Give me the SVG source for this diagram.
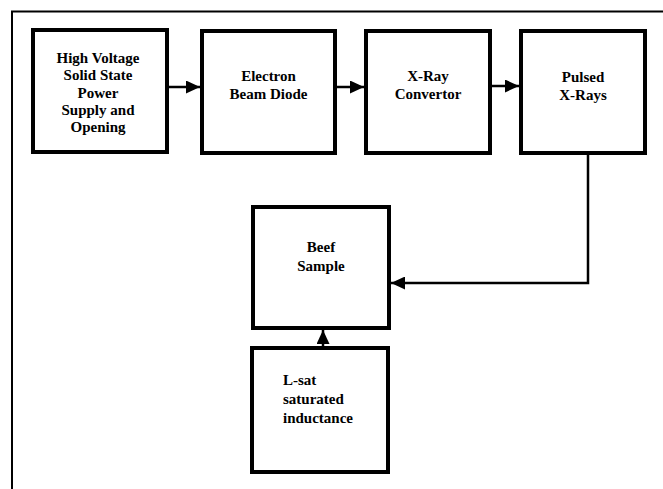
<svg xmlns="http://www.w3.org/2000/svg" width="663" height="489" viewBox="0 0 663 489">
<style>
.box{fill:#fff;stroke:#000;stroke-width:4}
.t{font-family:"Liberation Serif","Times New Roman",serif;font-weight:bold;font-size:15px;fill:#000}
.c{text-anchor:middle}
.ln{fill:none;stroke:#000;stroke-width:2.5}
</style>
<defs>
<marker id="ah" markerWidth="14" markerHeight="13" refX="14" refY="6.5" orient="auto" markerUnits="userSpaceOnUse">
<path d="M0,0 L14,6.5 L0,13 Z" fill="#000"/>
</marker>
</defs>
<rect width="663" height="489" fill="#fff"/>
<path d="M12,489 V11.5 H663" fill="none" stroke="#000" stroke-width="2"/>
<g id="power">
<rect class="box" x="33" y="30" width="134" height="122"/>
<text class="t c" x="98" y="63">High Voltage<tspan x="98" dy="17.3">Solid State</tspan><tspan x="98" dy="17.3">Power</tspan><tspan x="98" dy="17.3">Supply and</tspan><tspan x="98" dy="17.3">Opening</tspan></text>
</g>
<g id="diode">
<rect class="box" x="202" y="31" width="133" height="122"/>
<text class="t c" x="268.5" y="81">Electron<tspan x="268.5" dy="17.5">Beam Diode</tspan></text>
</g>
<g id="convertor">
<rect class="box" x="366" y="31" width="124" height="122"/>
<text class="t c" x="428" y="81">X-Ray<tspan x="428" dy="17.5">Convertor</tspan></text>
</g>
<g id="xrays">
<rect class="box" x="521" y="31" width="124" height="122"/>
<text class="t c" x="583" y="82">Pulsed<tspan x="583" dy="17.5">X-Rays</tspan></text>
</g>
<g id="beef">
<rect class="box" x="253" y="207" width="136" height="121"/>
<text class="t c" x="321" y="252">Beef<tspan x="321" dy="19">Sample</tspan></text>
</g>
<g id="lsat">
<rect class="box" x="252" y="348" width="136" height="124"/>
<text class="t" x="283" y="385">L-sat<tspan x="283" dy="19">saturated</tspan><tspan x="283" dy="19">inductance</tspan></text>
</g>
<g id="connectors">
<line class="ln" x1="169" y1="87" x2="200" y2="87" marker-end="url(#ah)"/>
<line class="ln" x1="337" y1="87" x2="364" y2="87" marker-end="url(#ah)"/>
<line class="ln" x1="492" y1="86" x2="519" y2="86" marker-end="url(#ah)"/>
<polyline class="ln" points="588,154 588,283 391,283" marker-end="url(#ah)"/>
<line class="ln" x1="323" y1="346" x2="323" y2="330" marker-end="url(#ah)"/>
</g>
</svg>
